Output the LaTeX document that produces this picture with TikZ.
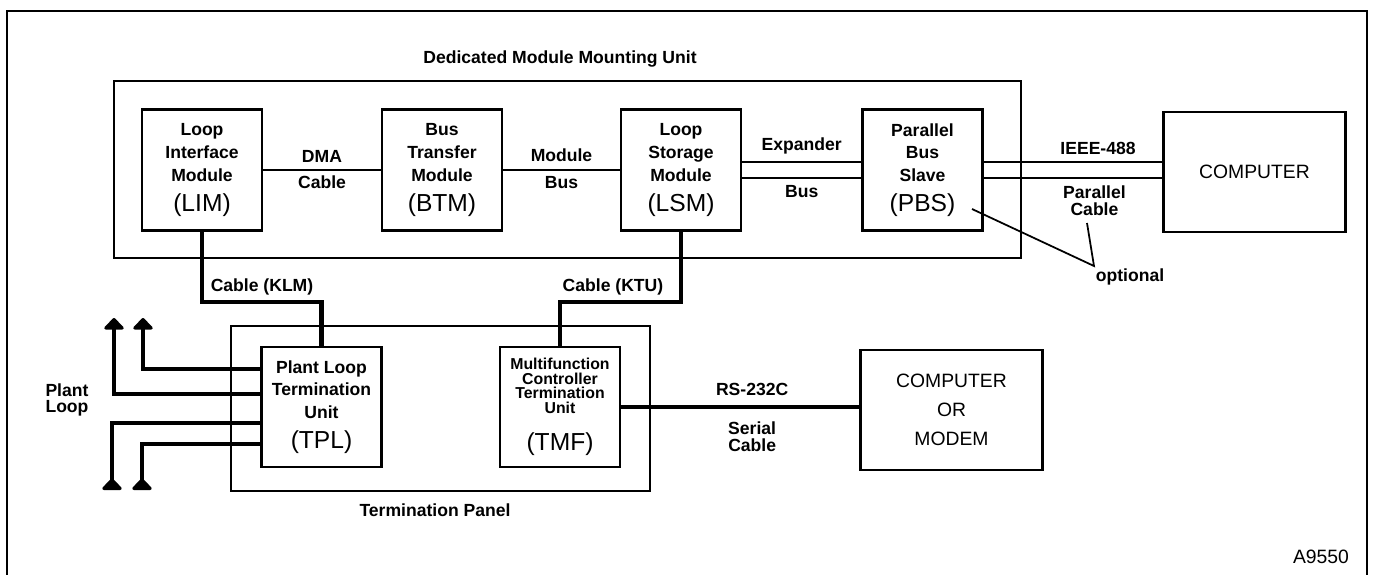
\documentclass[tikz,border=0pt]{standalone}
\usepackage{fontspec}
\setmainfont{Liberation Sans}
\usepackage{tikz}
\usetikzlibrary{calc,positioning,arrows.meta}
\tikzset{
  unitbox/.style={draw,line width=1.2pt,inner sep=0pt,align=center},
  module/.style={unitbox,minimum width=2.4cm,minimum height=2.42cm,
    font=\bfseries\fontsize{10}{13}\selectfont},
  hostbox/.style={unitbox,minimum width=3.64cm,minimum height=2.4cm,
    font=\fontsize{11}{16.5}\selectfont},
  lbl/.style={font=\bfseries\fontsize{10}{9.5}\selectfont,align=center,inner sep=1pt},
  wire/.style={line width=1pt},
  cable/.style={line width=2.8pt},
  uptip/.style={-{Triangle[width=13pt,length=7pt,round]}},
  downtip/.style={-{Triangle[width=13pt,length=7pt,round,reversed]}},
}
\newcommand{\modabbr}[1]{{\mdseries\fontsize{14}{16}\selectfont #1}}

\begin{document}
\begin{tikzpicture}[x=0.02cm,y=-0.02cm]
  \useasboundingbox (0,0) rectangle (1374,575);
  % frame, open at the bottom
  \draw[line width=1.3pt] (7,575) -- (7,11) -- (1367,11) -- (1367,575);

  % mounting unit
  \node[unitbox,minimum width=18.14cm,minimum height=3.54cm] (dmmu) at (567.5,169.5) {};
  \node[lbl] (dmmut) at (560,59) {Dedicated Module Mounting Unit};
  \node[module] (lim) at (202,170) {Loop\\Interface\\Module\\[4pt]\modabbr{(LIM)}};
  \node[module] (btm) at (442,170) {Bus\\Transfer\\Module\\[4pt]\modabbr{(BTM)}};
  \node[module] (lsm) at (681,170) {Loop\\Storage\\Module\\[4pt]\modabbr{(LSM)}};
  \node[module] (pbs) at (922.5,170) {Parallel\\Bus\\Slave\\[4pt]\modabbr{(PBS)}};
  \node[hostbox] (comp) at (1254.5,172) {COMPUTER};

  \draw[wire] (lim) -- node[lbl,above=3pt] (dma) {DMA}
    node[lbl,below=2pt] (dmac) {Cable} (btm);
  \draw[wire] (btm) -- node[lbl,above=3pt] (mbus) {Module}
    node[lbl,below=2pt] (mbusb) {Bus} (lsm);
  \draw[wire] ([yshift=4.5pt]lsm.east) -- node[lbl,above=3pt] (exp) {Expander}
    ([yshift=4.5pt]lsm.east -| pbs.west);
  \draw[wire] ([yshift=-4.5pt]lsm.east) -- node[lbl,below=3pt] (expb) {Bus}
    ([yshift=-4.5pt]lsm.east -| pbs.west);
  \draw[wire] ([yshift=4.5pt]pbs.east) -- node[lbl,above=3pt,pos=0.64] (ieee) {IEEE-488}
    ([yshift=4.5pt]pbs.east -| comp.west);
  \draw[wire] ([yshift=-4.5pt]pbs.east) -- node[lbl,below=3pt,pos=0.62] (pcab) {Parallel\\Cable}
    ([yshift=-4.5pt]pbs.east -| comp.west);

  % optional parts
  \coordinate (optpt) at (1094,266);
  \coordinate (pbsnote) at (972,209);
  \coordinate (pcnote) at (1087,223);
  \draw[wire] (pbsnote) -- (optpt) -- (pcnote);
  \node[lbl] (optl) at (1130,277) {optional};

  % termination panel
  \node[unitbox,minimum width=8.38cm,minimum height=3.3cm] (tp) at (440.5,408.5) {};
  \node[lbl] (tpt) at (435,510) {Termination Panel};
  \node[module,minimum height=2.4cm] (tpl) at (321.5,407)
    {Plant Loop\\Termination\\Unit\\[4pt]\modabbr{(TPL)}};
  \node[module,minimum height=2.4cm,font=\bfseries\fontsize{9}{8.2}\selectfont] (tmf) at (560,407)
    {Multifunction\\Controller\\Termination\\Unit\\[10pt]\modabbr{(TMF)}};
  \node[hostbox] (modem) at (951.5,410) {COMPUTER\\OR\\MODEM};

  \draw[cable] (lim.south) |- ($(tpl.north)+(0,-44)$) -- (tpl.north);
  \draw[cable] (lsm.south) |- ($(tmf.north)+(0,-44)$) -- (tmf.north);
  \node[lbl] (klm) at (262,287) {Cable (KLM)};
  \node[lbl] (ktu) at (613,287) {Cable (KTU)};

  \draw[cable] (tmf.east) -- node[lbl,above=4pt,pos=0.55] (rs) {RS-232C}
    node[lbl,below=6pt,pos=0.55] (serial) {Serial\\Cable} (tmf.east -| modem.west);

  % plant loop
  \coordinate (plA) at (143,318);
  \coordinate (plB) at (114,318);
  \coordinate (plC) at (112,490);
  \coordinate (plD) at (142,490);
  \foreach \dy/\e/\tip in {-38/plA/uptip,-13/plB/uptip,16/plC/downtip,37/plD/downtip}
    \draw[cable,\tip] ($(tpl.west)+(0,\dy)$) -| (\e);
  \node[lbl,align=left] (plant) at (67,400) {Plant\\Loop};

  \node[font=\fontsize{11}{13}\selectfont] (fig) at (1321,557) {A9550};
\end{tikzpicture}
\end{document}
